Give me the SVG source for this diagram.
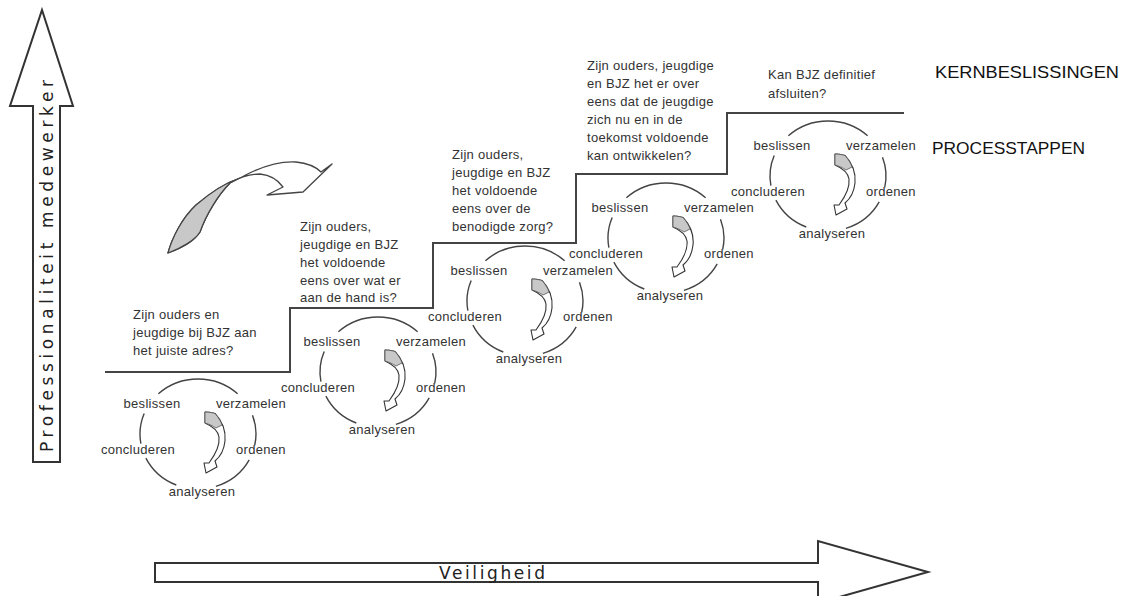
<svg xmlns="http://www.w3.org/2000/svg" xmlns:xlink="http://www.w3.org/1999/xlink" width="1125" height="596" viewBox="0 0 1125 596">
<style>
.t{font-family:"Liberation Sans",Arial,sans-serif;font-size:13px;letter-spacing:0.3px;fill:#333}
.l{font-family:"Liberation Sans",Arial,sans-serif;font-size:13px;letter-spacing:0.3px;fill:#333;text-anchor:middle}
.h{font-family:"Liberation Sans",Arial,sans-serif;font-size:17px;fill:#111}
.ax{font-family:"DejaVu Sans",sans-serif;font-size:17px;fill:#222;text-anchor:middle}
.arc{fill:none;stroke:#444;stroke-width:1.4}
.big{fill:#fff;stroke:#333;stroke-width:2}
.cur{fill:#fff;stroke:#444;stroke-width:1.3;stroke-linejoin:round}
.cs{fill:#fff;stroke:#333;stroke-width:1.1;stroke-linejoin:round}
.gr{fill:#c8c8c8;stroke:#444;stroke-width:1.3;stroke-linejoin:round}
.gs{fill:#c8c8c8;stroke:#555;stroke-width:0.8;stroke-linejoin:round}
.stair{fill:none;stroke:#444;stroke-width:2}
</style>
<defs>
<g id="cyc">
<path class="arc" d="M-39.6,-40.2 A58,55 0 0 1 39.6,-40.2 M54.5,-18.8 A58,55 0 0 1 56.7,11.4 M51.2,25.8 A58,55 0 0 1 17.9,52.3 M-21.7,51 A58,55 0 0 1 -52.1,24.1 M-57.1,9.6 A58,55 0 0 1 -53.8,-20.6"/>
<path class="cs" d="M7,-22 C12,-22 15,-21 17,-20.5 C24,-13 28,-3 27,7 C26,16 22,23 17,27 L19,33 L8,39 L6,29 L11,29 C17,21 22,12 21,3 C20,-3 14,-8 7,-11 Z"/>
<path class="gs" d="M7,-22 C12,-22 15,-21 17,-20.5 C21,-16 23,-12 24,-9 L18,-6 C15,-8 11,-10 7,-11 Z"/>
</g>
</defs>

<g id="axis-vertical">
<polygon class="big" points="33,462 33,106 10,106 42,10 73,106 60,106 60,462"/>
<text class="ax" transform="translate(52.5,266) rotate(-90)" textLength="372" lengthAdjust="spacing">Professionaliteit medewerker</text>
</g>

<g id="axis-horizontal">
<polygon class="big" points="155,563 818,563 818,541 928,572 818,603 818,582 155,582"/>
<text class="ax" x="492" y="578.5" textLength="106" lengthAdjust="spacing">Veiligheid</text>
</g>

<g id="connectors">
<path class="stair" d="M105,372 H290 V308 H433 V243 H576 V174 H727 V113 H904"/>
<path class="cur" d="M168,253 C172,238 182,218 196,205 C210,193 225,183 240,178 C258,168 278,161 296,162 C306,163 315,166 321,172 L332,164 L303,192 L267,195 L283,187 C278,180 270,175 260,174 C250,174 240,177 230,183 C218,195 206,215 200,232 C195,240 182,248 168,253 Z"/>
<path class="gr" d="M168,253 C172,238 182,218 196,205 C210,193 225,183 240,178 C236,180 233,181 230,183 C218,195 206,215 200,232 C195,240 182,248 168,253 Z"/>
</g>

<g id="q1">
<text class="t" x="133" y="319">Zijn ouders en</text>
<text class="t" x="133" y="337">jeugdige bij BJZ aan</text>
<text class="t" x="133" y="355">het juiste adres?</text>
</g>
<g id="q2">
<text class="t" x="300" y="231">Zijn ouders,</text>
<text class="t" x="300" y="249">jeugdige en BJZ</text>
<text class="t" x="300" y="267">het voldoende</text>
<text class="t" x="300" y="285">eens over wat er</text>
<text class="t" x="300" y="302">aan de hand is?</text>
</g>
<g id="q3">
<text class="t" x="452" y="159">Zijn ouders,</text>
<text class="t" x="452" y="177">jeugdige en BJZ</text>
<text class="t" x="452" y="195">het voldoende</text>
<text class="t" x="452" y="213">eens over de</text>
<text class="t" x="452" y="231">benodigde zorg?</text>
</g>
<g id="q4">
<text class="t" x="587" y="70">Zijn ouders, jeugdige</text>
<text class="t" x="587" y="88">en BJZ het er over</text>
<text class="t" x="587" y="106">eens dat de jeugdige</text>
<text class="t" x="587" y="124">zich nu en in de</text>
<text class="t" x="587" y="142">toekomst voldoende</text>
<text class="t" x="587" y="160">kan ontwikkelen?</text>
</g>
<g id="q5">
<text class="t" x="768" y="79">Kan BJZ definitief</text>
<text class="t" x="768" y="98">afsluiten?</text>
</g>

<g id="legend">
<text class="h" x="935" y="78" textLength="184" lengthAdjust="spacingAndGlyphs">KERNBESLISSINGEN</text>
<text class="h" x="932" y="154" textLength="153" lengthAdjust="spacingAndGlyphs">PROCESSTAPPEN</text>
</g>

<g id="cycle1" transform="translate(198,434)">
<use xlink:href="#cyc" href="#cyc"/>
<text class="l" x="-46" y="-26">beslissen</text>
<text class="l" x="53" y="-26">verzamelen</text>
<text class="l" x="-60" y="20">concluderen</text>
<text class="l" x="63" y="20">ordenen</text>
<text class="l" x="4" y="62">analyseren</text>
</g>
<g id="cycle2" transform="translate(378,372)">
<use xlink:href="#cyc" href="#cyc"/>
<text class="l" x="-46" y="-26">beslissen</text>
<text class="l" x="53" y="-26">verzamelen</text>
<text class="l" x="-60" y="20">concluderen</text>
<text class="l" x="63" y="20">ordenen</text>
<text class="l" x="4" y="62">analyseren</text>
</g>
<g id="cycle3" transform="translate(525,301)">
<use xlink:href="#cyc" href="#cyc"/>
<text class="l" x="-46" y="-26">beslissen</text>
<text class="l" x="53" y="-26">verzamelen</text>
<text class="l" x="-60" y="20">concluderen</text>
<text class="l" x="63" y="20">ordenen</text>
<text class="l" x="4" y="62">analyseren</text>
</g>
<g id="cycle4" transform="translate(666,238)">
<use xlink:href="#cyc" href="#cyc"/>
<text class="l" x="-46" y="-26">beslissen</text>
<text class="l" x="53" y="-26">verzamelen</text>
<text class="l" x="-60" y="20">concluderen</text>
<text class="l" x="63" y="20">ordenen</text>
<text class="l" x="4" y="62">analyseren</text>
</g>
<g id="cycle5" transform="translate(828,176)">
<use xlink:href="#cyc" href="#cyc"/>
<text class="l" x="-46" y="-26">beslissen</text>
<text class="l" x="53" y="-26">verzamelen</text>
<text class="l" x="-60" y="20">concluderen</text>
<text class="l" x="63" y="20">ordenen</text>
<text class="l" x="4" y="62">analyseren</text>
</g>
</svg>
